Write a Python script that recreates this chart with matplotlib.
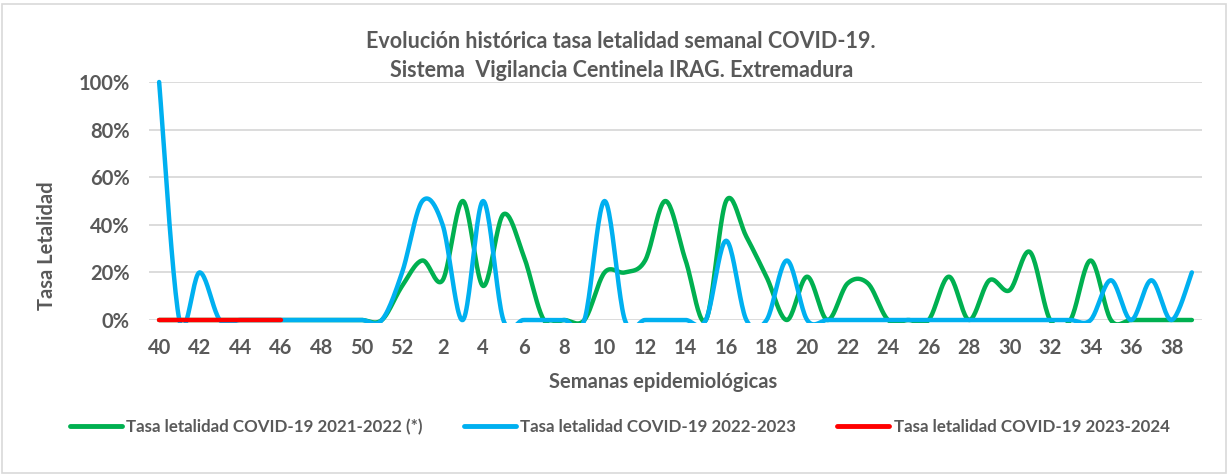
import numpy as np
import matplotlib
matplotlib.use("Agg")
import matplotlib.pyplot as plt
from matplotlib.lines import Line2D
from matplotlib.patches import Rectangle
from matplotlib.ticker import PercentFormatter

# weeks 40..52 of one year, then 1..39 of the next
weeks = list(range(40, 53)) + list(range(1, 40))

# tasa letalidad (%) per week
green_2122 = [0, 0, 0, 0, 0, 0, 0, 0, 0, 0, 0, 0, 14.3,
              25, 16.7, 50, 14.3, 44.4, 27, 0, 0, 0, 20, 20, 25, 50, 25, 0,
              50, 35, 18, 0, 18.2, 0, 15.4, 15.4, 0, 0, 0, 18.2, 0, 16.7,
              12.5, 28.6, 0, 0, 25, 0, 0, 0, 0, 0]
blue_2223 = [100, 0, 20, 0, 0, 0, 0, 0, 0, 0, 0, 0, 20,
             50, 40, 0, 50, 0, 0, 0, 0, 0, 50, 0, 0, 0, 0, 0,
             33.3, 0, 0, 25, 0, 0, 0, 0, 0, 0, 0, 0, 0, 0,
             0, 0, 0, 0, 0, 16.7, 0, 16.7, 0, 20]
red_2324 = [0, 0, 0, 0, 0, 0, 0]

labels = ["Tasa letalidad COVID-19 2021-2022 (*)",
          "Tasa letalidad COVID-19 2022-2023",
          "Tasa letalidad COVID-19 2023-2024"]
colors = ["#00B050", "#00B0F0", "#FF0000"]
TXT = "#595959"

plt.rcParams['font.family'] = ['Lato', 'DejaVu Sans']
plt.rcParams['font.weight'] = 'bold'


def smooth(y, n=24):
    # excel-like smoothed line (catmull-rom as bezier)
    pts = np.column_stack([np.arange(len(y)), np.asarray(y, float)])
    out = []
    for k in range(len(pts) - 1):
        p0 = pts[k - 1] if k > 0 else pts[k]
        p1, p2 = pts[k], pts[k + 1]
        p3 = pts[k + 2] if k + 2 < len(pts) else pts[k + 1]
        c1 = p1 + (p2 - p0) / 6
        c2 = p2 - (p3 - p1) / 6
        t = np.linspace(0, 1, n)[:, None]
        seg = (1 - t)**3 * p1 + 3 * (1 - t)**2 * t * c1 + 3 * (1 - t) * t**2 * c2 + t**3 * p2
        out.append(seg if k == 0 else seg[1:])
    return np.vstack(out)


fig = plt.figure(figsize=(12.3, 4.76), dpi=100)
fig.patches.append(Rectangle((0.002, 0.006), 0.995, 0.985, transform=fig.transFigure,
                             fill=False, edgecolor="#D9D9D9", linewidth=1.2))
ax = fig.add_axes([149 / 1230, 156 / 476, 1053 / 1230, 238 / 476])

# plot area clip: a little room below 0 so the zero line shows full width
clip = Rectangle((-0.5, -0.012), len(weeks), 1.2, transform=ax.transData)
for vals, c in zip([green_2122, blue_2223, red_2324], colors):
    s = smooth(vals)
    ln, = ax.plot(s[:, 0], s[:, 1] / 100, color=c, lw=3.2, solid_capstyle='round', zorder=3)
    ln.set_clip_path(clip)

ax.set_xlim(-0.5, len(weeks) - 0.5)
ax.set_ylim(0, 1)
ax.set_yticks(np.arange(0, 1.01, 0.2))
ax.yaxis.set_major_formatter(PercentFormatter(1.0, decimals=0))
ax.set_xticks(range(0, len(weeks), 2))
ax.set_xticklabels([str(w) for w in weeks[::2]])
ax.grid(axis='y', color="#D9D9D9", lw=1.3)
ax.set_axisbelow(True)
for sp in ax.spines.values():
    sp.set_visible(False)
ax.tick_params(length=0, labelsize=14.5, labelcolor=TXT)
ax.tick_params(axis='x', pad=13)
ax.tick_params(axis='y', pad=14)

ax.set_xlabel("Semanas epidemiológicas", fontsize=14.5, color=TXT, fontweight='bold')
ax.xaxis.set_label_coords((663 - 149) / 1053, (320 - 382) / 238)
ax.xaxis.label.set_va('center')
ax.set_ylabel("Tasa Letalidad", fontsize=14.5, color=TXT, fontweight='bold')
ax.yaxis.set_label_coords((47 - 149) / 1053, (320 - 246) / 238)
ax.yaxis.label.set_va('center')

fig.text(0.505, 1 - 56 / 476,
         "Evolución histórica tasa letalidad semanal COVID-19.\nSistema  Vigilancia Centinela IRAG. Extremadura",
         ha='center', va='center', fontsize=15.5, color=TXT, fontweight='bold', linespacing=1.45)

handles = [Line2D([], [], color=c, lw=3.5, solid_capstyle='round') for c in colors]
leg = fig.legend(handles, labels, loc='center', bbox_to_anchor=(0.5037, 1 - 427 / 476), ncol=3,
                 frameon=False, handlelength=3.1, handletextpad=0.25, columnspacing=2.4,
                 prop={'size': 12.2, 'weight': 'bold'})
for t in leg.get_texts():
    t.set_color(TXT)

fig.savefig("out.png", dpi=100)
